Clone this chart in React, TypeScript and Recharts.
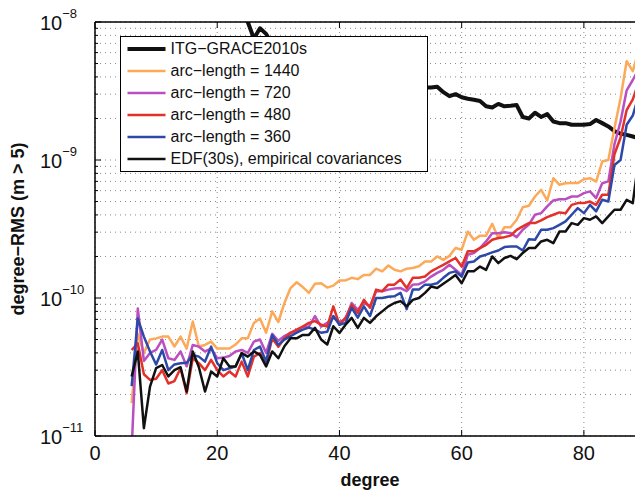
import React from 'react';
import { LineChart, Line, XAxis, YAxis, CartesianGrid, Legend } from 'recharts';

const FONT = '"Liberation Sans", Arial, Helvetica, sans-serif';

// spherical harmonic degree (x categories)
const degrees = [
  6, 7, 8, 9, 10, 11, 12, 13, 14, 15, 16, 17, 18, 19, 20, 21, 22, 23, 24, 25,
  26, 27, 28, 29, 30, 31, 32, 33, 34, 35, 36, 37, 38, 39, 40, 41, 42, 43, 44, 45,
  46, 47, 48, 49, 50, 51, 52, 53, 54, 55, 56, 57, 58, 59, 60, 61, 62, 63, 64, 65,
  66, 67, 68, 69, 70, 71, 72, 73, 74, 75, 76, 77, 78, 79, 80, 81, 82, 83, 84, 85,
  86, 87, 88, 89, 90,
];

const itgDegrees = [
  20, 21, 22, 23, 24, 25, 26, 27, 28, 29, 30, 31, 32, 33, 34, 35, 36, 37, 38, 39,
  40, 41, 42, 43, 44, 45, 46, 47, 48, 49, 50, 51, 52, 53, 54, 55, 56, 57, 58, 59,
  60, 61, 62, 63, 64, 65, 66, 67, 68, 69, 70, 71, 72, 73, 74, 75, 76, 77, 78, 79,
  80, 81, 82, 83, 84, 85, 86, 87, 88, 89, 90,
];

const itgGrace = [
  2.5e-8, 2.1e-8, 1.8e-8, 1.5e-8, 1.25e-8, 1.0e-8, 7.6e-9, 9.0e-9, 8.2e-9, 6.8e-9,
  6.3e-9, 6.0e-9, 5.7e-9, 5.5e-9, 5.3e-9, 5.1e-9, 4.9e-9, 4.75e-9, 4.6e-9, 4.45e-9,
  4.3e-9, 4.2e-9, 4.1e-9, 4.0e-9, 3.95e-9, 3.9e-9, 3.8e-9, 3.75e-9, 3.7e-9, 3.6e-9,
  3.55e-9, 3.5e-9, 3.45e-9, 3.4e-9, 3.35e-9, 3.35e-9, 3.4e-9, 3.1e-9, 2.9e-9, 3.0e-9,
  2.85e-9, 2.78e-9, 2.73e-9, 2.68e-9, 2.45e-9, 2.4e-9, 2.55e-9, 2.45e-9, 2.47e-9, 2.5e-9,
  2.05e-9, 2.0e-9, 2.2e-9, 2.05e-9, 2.15e-9, 1.9e-9, 1.85e-9, 1.85e-9, 1.8e-9, 1.8e-9,
  1.8e-9, 1.82e-9, 1.95e-9, 1.85e-9, 1.75e-9, 1.62e-9, 1.55e-9, 1.52e-9, 1.48e-9, 1.44e-9,
  1.4e-9,
];

const arc1440 = [
  1.73e-11, 5.5e-11, 4.0e-11, 5.0e-11, 5.1e-11, 5.25e-11, 5.25e-11, 4.45e-11, 5.25e-11, 4.3e-11,
  6.75e-11, 4.45e-11, 4.57e-11, 4.83e-11, 4.3e-11, 4.3e-11, 4.3e-11, 4.6e-11, 5.1e-11, 5.1e-11,
  6.6e-11, 7.1e-11, 5.6e-11, 8.0e-11, 6.7e-11, 9.2e-11, 1.18e-10, 1.3e-10, 1.2e-10, 1.09e-10,
  1.27e-10, 1.28e-10, 1.19e-10, 1.23e-10, 1.34e-10, 1.34e-10, 1.4e-10, 1.37e-10, 1.47e-10, 1.47e-10,
  1.63e-10, 1.56e-10, 1.72e-10, 1.6e-10, 1.56e-10, 1.63e-10, 1.65e-10, 1.7e-10, 1.84e-10, 1.84e-10,
  2.0e-10, 1.89e-10, 2.02e-10, 2.3e-10, 2.24e-10, 3.03e-10, 2.64e-10, 2.83e-10, 2.83e-10, 3.45e-10,
  2.72e-10, 3.26e-10, 3.26e-10, 3.69e-10, 4.55e-10, 4.66e-10, 5.44e-10, 6.08e-10, 5.09e-10, 7.38e-10,
  6.61e-10, 6.79e-10, 6.8e-10, 6.8e-10, 7.26e-10, 7.38e-10, 6.98e-10, 9.75e-10, 1.0e-9, 1.7e-9,
  2.8e-9, 5.2e-9, 4.4e-9, 6.3e-9, 6.4e-9,
];

const arc720 = [
  8e-12, 8.4e-11, 3.5e-11, 4.0e-11, 4.2e-11, 5.0e-11, 3.66e-11, 3.56e-11, 4.1e-11, 3.2e-11,
  4.57e-11, 4.44e-11, 4.1e-11, 4.3e-11, 3.66e-11, 3.7e-11, 3.8e-11, 4.1e-11, 4.2e-11, 4.0e-11,
  4.83e-11, 5.0e-11, 4.0e-11, 5.5e-11, 4.9e-11, 5.3e-11, 5.6e-11, 5.7e-11, 6.2e-11, 6.2e-11,
  7.4e-11, 6.2e-11, 6.6e-11, 7.2e-11, 6.7e-11, 7.0e-11, 9.2e-11, 8.2e-11, 9.3e-11, 8.7e-11,
  1.12e-10, 1.12e-10, 1.15e-10, 1.17e-10, 1.18e-10, 1.12e-10, 1.25e-10, 1.26e-10, 1.32e-10, 1.43e-10,
  1.52e-10, 1.6e-10, 1.74e-10, 1.6e-10, 1.47e-10, 2.06e-10, 2.12e-10, 2.3e-10, 2.57e-10, 2.95e-10,
  2.95e-10, 3.0e-10, 2.95e-10, 2.76e-10, 3.12e-10, 3.4e-10, 4.01e-10, 4.12e-10, 4.61e-10, 5.09e-10,
  5.2e-10, 5.2e-10, 5.44e-10, 5.44e-10, 5.75e-10, 5.92e-10, 5.3e-10, 6.79e-10, 7.0e-10, 1.3e-9,
  1.9e-9, 3.2e-9, 3.8e-9, 4.6e-9, 4.65e-9,
];

const arc480 = [
  4.2e-11, 4.7e-11, 2.8e-11, 2.55e-11, 2.6e-11, 3.0e-11, 2.4e-11, 2.5e-11, 3.1e-11, 2.04e-11,
  3.66e-11, 3.37e-11, 3.0e-11, 3.56e-11, 3.0e-11, 2.7e-11, 2.93e-11, 2.7e-11, 3.46e-11, 2.7e-11,
  3.76e-11, 3.98e-11, 3.37e-11, 5.1e-11, 4.44e-11, 5.1e-11, 5.6e-11, 5.9e-11, 6.2e-11, 6.6e-11,
  6.8e-11, 6.4e-11, 6.2e-11, 8.7e-11, 6.4e-11, 7.2e-11, 8.9e-11, 7.8e-11, 9.7e-11, 8.5e-11,
  1.15e-10, 1.12e-10, 1.25e-10, 1.25e-10, 1.36e-10, 1.18e-10, 1.4e-10, 1.4e-10, 1.43e-10, 1.56e-10,
  1.65e-10, 1.74e-10, 1.84e-10, 1.95e-10, 1.69e-10, 2.18e-10, 2.18e-10, 2.3e-10, 2.43e-10, 2.64e-10,
  2.72e-10, 2.76e-10, 2.83e-10, 3.12e-10, 3.3e-10, 3.49e-10, 3.49e-10, 3.65e-10, 3.86e-10, 4.01e-10,
  4.17e-10, 4.12e-10, 4.73e-10, 4.87e-10, 4.87e-10, 5.0e-10, 4.73e-10, 5.6e-10, 5.6e-10, 1.1e-9,
  1.45e-9, 2.3e-9, 2.75e-9, 3.7e-9, 3.9e-9,
];

const arc360 = [
  2.3e-11, 7.1e-11, 5.25e-11, 4.1e-11, 3.3e-11, 4.2e-11, 3.0e-11, 3.3e-11, 3.37e-11, 3.4e-11,
  3.87e-11, 3.76e-11, 3.46e-11, 4.44e-11, 3.37e-11, 3.0e-11, 3.1e-11, 3.19e-11, 3.98e-11, 3.0e-11,
  4.2e-11, 4.44e-11, 3.46e-11, 5.4e-11, 4.57e-11, 5.0e-11, 5.3e-11, 5.6e-11, 5.9e-11, 6.1e-11,
  5.9e-11, 5.6e-11, 5.7e-11, 7.4e-11, 6.4e-11, 6.6e-11, 8.5e-11, 7.2e-11, 8.7e-11, 7.4e-11,
  1.0e-10, 1.0e-10, 1.02e-10, 1.03e-10, 1.09e-10, 8.3e-11, 1.15e-10, 1.15e-10, 1.25e-10, 1.25e-10,
  1.28e-10, 1.4e-10, 1.52e-10, 1.56e-10, 1.43e-10, 1.81e-10, 1.84e-10, 2.0e-10, 2.06e-10, 2.14e-10,
  2.21e-10, 2.34e-10, 2.36e-10, 2.36e-10, 2.21e-10, 2.67e-10, 2.64e-10, 3.12e-10, 3.12e-10, 3.21e-10,
  3.39e-10, 3.59e-10, 4.01e-10, 4.48e-10, 4.12e-10, 4.73e-10, 4.24e-10, 5.15e-10, 5.0e-10, 9.2e-10,
  1.0e-9, 1.8e-9, 2.1e-9, 2.95e-9, 3.3e-9,
];

const edfEmpirical = [
  2.7e-11, 4.1e-11, 1.14e-11, 2.28e-11, 3.1e-11, 3.27e-11, 2.7e-11, 3.0e-11, 3.15e-11, 2.1e-11,
  4.1e-11, 3.15e-11, 2.1e-11, 2.93e-11, 2.7e-11, 3.66e-11, 3.19e-11, 3.19e-11, 3.98e-11, 3.76e-11,
  4.1e-11, 3.87e-11, 3.19e-11, 4.1e-11, 3.66e-11, 4.47e-11, 5.1e-11, 5.1e-11, 5.4e-11, 5.4e-11,
  6.07e-11, 5.0e-11, 4.6e-11, 6.24e-11, 5.58e-11, 6.4e-11, 7.17e-11, 6.07e-11, 7.17e-11, 6.6e-11,
  7.37e-11, 8.0e-11, 8.7e-11, 9.2e-11, 9.5e-11, 8.7e-11, 9.7e-11, 1.0e-10, 1.09e-10, 1.21e-10,
  1.18e-10, 1.27e-10, 1.36e-10, 1.47e-10, 1.28e-10, 1.56e-10, 1.56e-10, 1.69e-10, 1.6e-10, 2.0e-10,
  1.79e-10, 1.95e-10, 2.02e-10, 1.91e-10, 2.12e-10, 2.3e-10, 2.3e-10, 2.57e-10, 2.64e-10, 2.5e-10,
  3.03e-10, 3.03e-10, 3.49e-10, 3.39e-10, 3.79e-10, 3.69e-10, 3.9e-10, 3.49e-10, 3.9e-10, 4.36e-10,
  4.36e-10, 5.14e-10, 4.87e-10, 1.05e-9, 1.08e-9,
];

const xTicks = [0, 20, 40, 60, 80];
const yTicks = [
  1e-11, 2e-11, 3e-11, 4e-11, 5e-11, 6e-11, 7e-11, 8e-11, 9e-11,
  1e-10, 2e-10, 3e-10, 4e-10, 5e-10, 6e-10, 7e-10, 8e-10, 9e-10,
  1e-9, 2e-9, 3e-9, 4e-9, 5e-9, 6e-9, 7e-9, 8e-9, 9e-9,
  1e-8,
];

const series = [
  { key: 'itg', name: 'ITG\u2212GRACE2010s', color: '#111111', width: 4 },
  { key: 'a1440', name: 'arc\u2212length = 1440', color: '#fca95a', width: 2.5 },
  { key: 'a720', name: 'arc\u2212length = 720', color: '#b94fc0', width: 2.5 },
  { key: 'a480', name: 'arc\u2212length = 480', color: '#e3312a', width: 2.5 },
  { key: 'a360', name: 'arc\u2212length = 360', color: '#2c49a8', width: 2.5 },
  { key: 'edf', name: 'EDF(30s), empirical covariances', color: '#111111', width: 2.5 },
];

const rows = degrees.map((d, i) => {
  const k = itgDegrees.indexOf(d);
  return {
    deg: d,
    itg: k >= 0 ? itgGrace[k] : undefined,
    a1440: arc1440[i],
    a720: arc720[i],
    a480: arc480[i],
    a360: arc360[i],
    edf: edfEmpirical[i],
  };
});

const isMajor = (v: number) => {
  const l = Math.log10(v);
  return Math.abs(l - Math.round(l)) < 1e-6;
};

const LeftYTick = (props: any) => {
  const { x, y, payload } = props;
  const v = payload.value;
  const major = isMajor(v);
  const exp = Math.round(Math.log10(v));
  return (
    <g>
      <line x1={x} y1={y} x2={x + (major ? 6 : 3)} y2={y} stroke="#000" strokeWidth={1} />
      {major && (
        <text x={40} y={y + 7.5} fontSize={20} fill="#111" fontFamily={FONT}>
          10
          <tspan dy={-11.5} fontSize={13}>{'\u2212' + Math.abs(exp)}</tspan>
        </text>
      )}
    </g>
  );
};

const RightYTick = (props: any) => {
  const { x, y, payload } = props;
  const major = isMajor(payload.value);
  return <line x1={x} y1={y} x2={x - (major ? 6 : 3)} y2={y} stroke="#000" strokeWidth={1} />;
};

const BottomXTick = (props: any) => {
  const { x, y, payload } = props;
  return (
    <g>
      <line x1={x} y1={y} x2={x} y2={y - 6} stroke="#000" strokeWidth={1} />
      <text x={x} y={y + 24} textAnchor="middle" fontSize={20} fill="#111" fontFamily={FONT}>
        {payload.value}
      </text>
    </g>
  );
};

const TopXTick = (props: any) => {
  const { x, y } = props;
  return <line x1={x} y1={y} x2={x} y2={y + 6} stroke="#000" strokeWidth={1} />;
};

const renderLegend = () => (
  <div
    style={{
      boxSizing: 'border-box',
      width: 308,
      height: 136,
      border: '1.5px solid #000',
      background: '#fff',
      paddingTop: 0.5,
      fontFamily: FONT,
      fontSize: 16,
      color: '#111',
    }}
  >
    {series.map((s) => (
      <div key={s.key} style={{ height: 22, display: 'flex', alignItems: 'center', lineHeight: '22px', whiteSpace: 'nowrap' }}>
        <svg width={46} height={22} style={{ display: 'block' }}>
          <line x1={6.5} x2={44.5} y1={11} y2={11} stroke={s.color} strokeWidth={s.width} />
        </svg>
        <span style={{ marginLeft: 3.5 }}>{s.name}</span>
      </div>
    ))}
  </div>
);

export default function App() {
  return (
    <div
      style={{
        width: 643,
        height: 498,
        marginLeft: -8,
        marginTop: -8,
        overflow: 'hidden',
        position: 'relative',
        background: '#fff',
      }}
    >
      <LineChart width={668} height={498} data={rows} margin={{ top: 12, right: 0, bottom: 32, left: 0 }}>
        <CartesianGrid stroke="#8a8a8a" strokeWidth={1} strokeDasharray="1 4" />
        <XAxis
          dataKey="deg"
          type="number"
          domain={[0, 90]}
          ticks={xTicks}
          interval={0}
          height={30}
          tickSize={0}
          tickMargin={0}
          tickLine={false}
          axisLine={{ stroke: '#000', strokeWidth: 1.5 }}
          tick={<BottomXTick />}
          allowDataOverflow
          label={{
            content: () => (
              <text x={370} y={486} textAnchor="middle" fontSize={18} fontWeight="bold" fill="#111" fontFamily={FONT}>
                degree
              </text>
            ),
          }}
        />
        <XAxis
          xAxisId="top"
          orientation="top"
          dataKey="deg"
          type="number"
          domain={[0, 90]}
          ticks={xTicks}
          interval={0}
          height={10}
          tickSize={0}
          tickMargin={0}
          tickLine={false}
          axisLine={{ stroke: '#000', strokeWidth: 1.5 }}
          tick={<TopXTick />}
          allowDataOverflow
        />
        <YAxis
          scale="log"
          type="number"
          domain={[1e-11, 1e-8]}
          ticks={yTicks}
          interval={0}
          width={95}
          tickSize={0}
          tickMargin={0}
          tickLine={false}
          axisLine={{ stroke: '#000', strokeWidth: 1.5 }}
          tick={<LeftYTick />}
          allowDataOverflow
          label={{
            content: () => (
              <text
                x={17.5}
                y={229}
                transform="rotate(-90 17.5 229)"
                textAnchor="middle"
                dominantBaseline="central"
                fontSize={18}
                fontWeight="bold"
                fill="#111"
                fontFamily={FONT}
              >
                degree{'\u2212'}RMS (m &gt; 5)
              </text>
            ),
          }}
        />
        <YAxis
          yAxisId="r"
          orientation="right"
          scale="log"
          type="number"
          domain={[1e-11, 1e-8]}
          ticks={yTicks}
          interval={0}
          width={23}
          tickSize={0}
          tickMargin={0}
          tickLine={false}
          axisLine={{ stroke: '#000', strokeWidth: 1.5 }}
          tick={<RightYTick />}
          allowDataOverflow
        />
        {series.map((s) => (
          <Line
            key={s.key}
            type="linear"
            dataKey={s.key}
            name={s.name}
            stroke={s.color}
            strokeWidth={s.width}
            dot={false}
            activeDot={false}
            isAnimationActive={false}
            strokeLinejoin="round"
          />
        ))}
        <Legend
          layout="vertical"
          align="center"
          verticalAlign="middle"
          wrapperStyle={{ left: 120, top: 36, width: 308, height: 136 }}
          content={renderLegend}
        />
      </LineChart>
    </div>
  );
}
